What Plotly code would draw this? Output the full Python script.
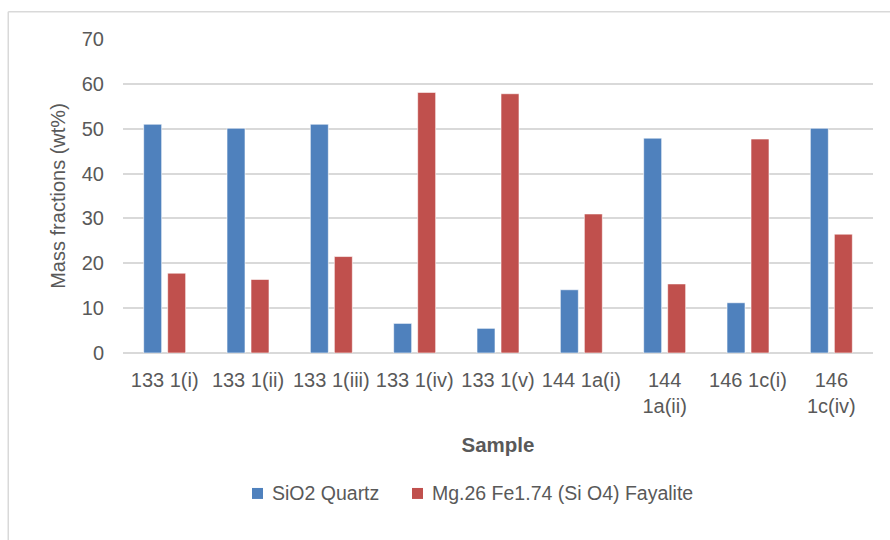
import plotly.graph_objects as go

# Samples along the x axis (line breaks where the label wraps)
samples = ["133 1(i)", "133 1(ii)", "133 1(iii)", "133 1(iv)", "133 1(v)",
           "144 1a(i)", "144 1a(ii)", "146 1c(i)", "146 1c(iv)"]
sample_labels = ["133 1(i)", "133 1(ii)", "133 1(iii)", "133 1(iv)", "133 1(v)",
                 "144 1a(i)", "144<br>1a(ii)", "146 1c(i)", "146<br>1c(iv)"]

# Mass fractions (wt%)
quartz = [51.0, 50.1, 51.0, 6.6, 5.5, 14.1, 47.9, 11.2, 50.1]
fayalite = [17.8, 16.4, 21.5, 58.1, 57.8, 31.0, 15.4, 47.7, 26.5]

y_ticks = [0, 10, 20, 30, 40, 50, 60, 70]

series_names = ["SiO2 Quartz", "Mg.26 Fe1.74 (Si O4) Fayalite"]
series_colors = ["#4F81BD", "#C0504D"]

FONT = "Liberation Sans, Arial, sans-serif"
TEXT = "#595959"
GRID = "#d9d9d9"

fig = go.Figure()
for name, values, color in zip(series_names, [quartz, fayalite], series_colors):
    fig.add_trace(go.Bar(
        x=samples, y=values, name=name, showlegend=False,
        marker=dict(color=color, line=dict(color="rgba(255,255,255,0.6)", width=1)),
    ))

# Legend row below the axis title: coloured square + label for each series
legend_shapes = []
legend_notes = []
legend_x = [(0.172, 0.1867, 0.196), (0.3853, 0.4, 0.4093)]  # square left, square right, text left
for (sx0, sx1, tx), name, color in zip(legend_x, series_names, series_colors):
    legend_shapes.append(dict(
        type="rect", xref="paper", yref="paper", x0=sx0, x1=sx1,
        y0=-0.4648, y1=-0.4298, fillcolor=color, line=dict(width=0),
    ))
    legend_notes.append(dict(
        text=name, xref="paper", yref="paper", x=tx, y=-0.4473,
        xanchor="left", yanchor="middle", showarrow=False,
        font=dict(size=19.5, color=TEXT, family=FONT),
    ))

frame = [
    # chart frame: left and top edges
    dict(type="line", xref="paper", yref="paper", x0=-0.153, x1=-0.153, y0=1.087, y1=-0.7,
         line=dict(color=GRID, width=1.5)),
    dict(type="line", xref="paper", yref="paper", x0=-0.153, x1=1.1, y0=1.087, y1=1.087,
         line=dict(color=GRID, width=1.5)),
]

fig.update_layout(
    width=890, height=540,
    margin=dict(l=123, r=17, t=39, b=187),
    paper_bgcolor="white", plot_bgcolor="white",
    barmode="group", bargap=0.424, bargroupgap=0.25,
    font=dict(family=FONT, color=TEXT, size=20),
    showlegend=False,
    xaxis=dict(
        tickmode="array", tickvals=samples, ticktext=sample_labels,
        tickfont=dict(size=20, color=TEXT), showgrid=False, showline=False,
        ticks="", ticklabelstandoff=13,
        title=dict(text="<b>Sample</b>", font=dict(size=20.5, color=TEXT), standoff=21),
    ),
    yaxis=dict(
        range=[0, 70], tickvals=y_ticks, showgrid=True, gridcolor=GRID, gridwidth=1.5,
        zeroline=True, zerolinecolor=GRID, zerolinewidth=1.5,
        tickfont=dict(size=20, color=TEXT), ticks="", ticklabelstandoff=18,
        title=dict(text="Mass fractions (wt%)", font=dict(size=20, color=TEXT), standoff=10),
    ),
    shapes=frame + legend_shapes,
    annotations=legend_notes,
)

fig.write_html("out.html")
